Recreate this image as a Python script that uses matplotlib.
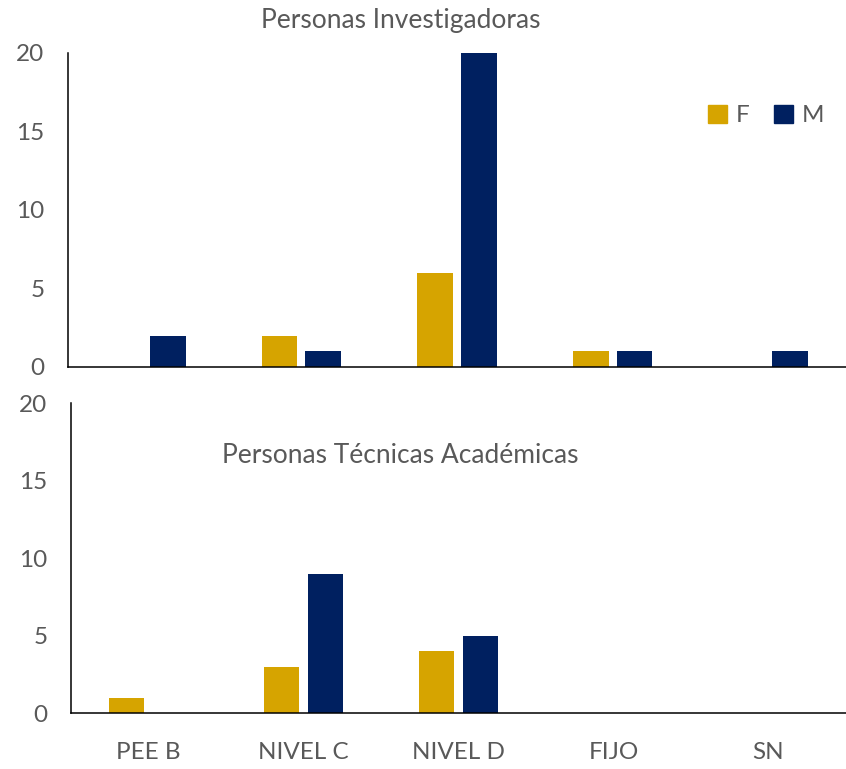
import numpy as np
import matplotlib
matplotlib.use('Agg')
import matplotlib.pyplot as plt
from matplotlib.patches import Patch

# Data
categories = ['PEE B', 'NIVEL C', 'NIVEL D', 'FIJO', 'SN']
inv_f = [0, 2, 6, 1, 0]
inv_m = [2, 1, 20, 1, 1]
tec_f = [1, 3, 4, 0, 0]
tec_m = [0, 9, 5, 0, 0]

gold = '#D6A400'
navy = '#002060'
grey = '#595959'

plt.rcParams['font.family'] = ['Lato', 'DejaVu Sans']

fig = plt.figure(figsize=(8.46, 7.69), dpi=100)
ax_top = fig.add_axes([0.0804, 0.5228, 0.9196, 0.4083])
ax_bot = fig.add_axes([0.0839, 0.0728, 0.9161, 0.4031])

x = np.arange(len(categories))
w = 0.23
off = 0.141

for ax, f, m in [(ax_top, inv_f, inv_m), (ax_bot, tec_f, tec_m)]:
    ax.bar(x - off, f, w, color=gold, label='F')
    ax.bar(x + off, m, w, color=navy, label='M')
    ax.set_xlim(-0.5, len(categories) - 0.5)
    ax.set_ylim(0, 20)
    ax.set_yticks([0, 5, 10, 15, 20])
    for s in ['top', 'right']:
        ax.spines[s].set_visible(False)
    for s in ['left', 'bottom']:
        ax.spines[s].set_linewidth(1.1)
        ax.spines[s].set_color('black')
    ax.tick_params(axis='both', length=0, labelsize=17.5, labelcolor=grey)
    ax.tick_params(axis='y', pad=17)
    ax.tick_params(axis='x', pad=21)

ax_top.set_xticks([])
ax_bot.set_xticks(x)
ax_bot.set_xticklabels(categories)

fig.text(0.474, 0.973, 'Personas Investigadoras', ha='center', va='center',
         fontsize=19, color=grey)
fig.text(0.473, 0.408, 'Personas Técnicas Académicas', ha='center', va='center',
         fontsize=19, color=grey)

handles = [Patch(color=gold, label='F'), Patch(color=navy, label='M')]
ax_top.legend(handles=handles, loc='upper right', bbox_to_anchor=(1.0, 0.905),
              ncol=2, frameon=False, fontsize=17.5, labelcolor=grey,
              handlelength=0.8, handleheight=0.8, handletextpad=0.35,
              columnspacing=1.0)

fig.savefig('out.png', dpi=100)
